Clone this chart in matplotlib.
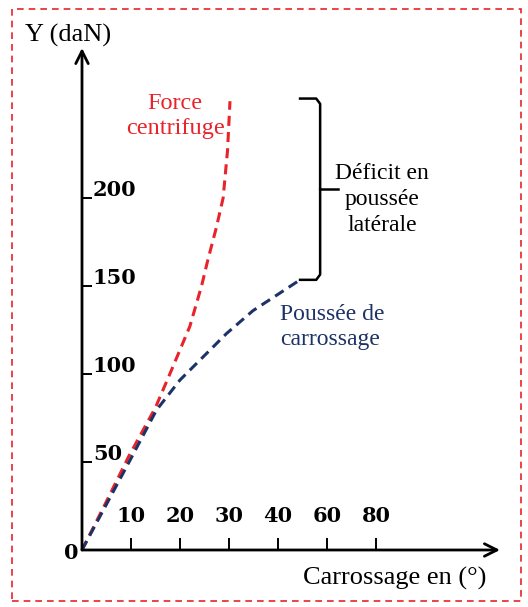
import numpy as np
import matplotlib
matplotlib.use("Agg")
import matplotlib.pyplot as plt
from matplotlib.patches import Rectangle

# x axis is not linear: ticks 10,20,30,40,60,80 are equally spaced,
# so curve x values are in tick-position units (1 = 10°, 3 = 30°, ...)
x_tick_labels = [10, 20, 30, 40, 60, 80]
x_tick_pos = [1, 2, 3, 4, 5, 6]
y_ticks = [50, 100, 150, 200]

# Force centrifuge (red)
red_x = [0, 0.47, 0.95, 1.50, 1.80, 2.20, 2.44, 2.57, 2.74, 2.88, 2.97, 3.02]
red_y = [0, 26, 53, 81, 100.5, 127, 150, 165, 183, 200, 227, 255]

# Poussée de carrossage (blue)
blue_x = [0, 0.49, 0.98, 1.52, 2.00, 2.41, 2.95, 3.49, 4.04, 4.45]
blue_y = [0, 25.5, 51, 79.5, 96.6, 108, 123, 136, 146, 153.5]

serif = "Liberation Serif"
red = "#e8232a"
navy = "#1d3266"

fig = plt.figure(figsize=(5.28, 6.07), dpi=100)
ax = fig.add_axes([82 / 528, 57 / 607, 418 / 528, 502 / 607])
ax.set_xlim(0, 418 / 49)
ax.set_ylim(0, 502 / 1.76)
for s in ax.spines.values():
    s.set_visible(False)

# axes with arrows
ax.annotate("", xy=(418 / 49, 0), xytext=(0, 0),
            arrowprops=dict(arrowstyle="->,head_length=0.9,head_width=0.45",
                            lw=2, color="black", shrinkA=0, shrinkB=0))
ax.annotate("", xy=(0, 502 / 1.76), xytext=(0, 0),
            arrowprops=dict(arrowstyle="->,head_length=0.9,head_width=0.45",
                            lw=2, color="black", shrinkA=0, shrinkB=0))

# ticks
ax.set_xticks(x_tick_pos)
ax.set_yticks(y_ticks)
ax.tick_params(axis="x", direction="in", length=9, width=1.4,
               labelbottom=False)
ax.tick_params(axis="y", direction="in", length=7, width=1.4,
               labelleft=False)
for p, lab in zip(x_tick_pos, x_tick_labels):
    ax.text(p, 19.5, str(lab), ha="center", va="center",
            fontsize=15, fontweight="bold", family="DejaVu Serif")
for v in y_ticks:
    ax.text(0.22, v + 1, str(v), ha="left", va="baseline",
            fontsize=15, fontweight="bold", family="DejaVu Serif")
ax.text(-0.21, -1.5, "0", ha="center", va="center",
        fontsize=15, fontweight="bold", family="DejaVu Serif")

# curves
ax.plot(red_x, red_y, color=red, lw=2.2, linestyle=(0, (3.3, 2.0)),
        clip_on=False)
ax.plot(blue_x, blue_y, color=navy, lw=2.2, linestyle=(0, (3.3, 2.0)),
        clip_on=False)

# brace between the end of the two curves
bx, tip, hook = 4.86, 5.22, 4.45
top, bot = red_y[-1] + 1.5, blue_y[-1]
mid = (top + bot) / 2
ax.plot([hook, bx - 0.08, bx, bx, bx], [top, top, top - 3, mid + 2, mid],
        color="black", lw=1.8, clip_on=False)
ax.plot([hook, bx - 0.08, bx, bx, bx], [bot, bot, bot + 3, mid - 2, mid],
        color="black", lw=1.8, clip_on=False)
ax.plot([bx, tip], [mid, mid], color="black", lw=1.8, clip_on=False)

# labels
ax.text(-0.276, 292.6, "Y (daN)", ha="center", va="center",
        fontsize=19, family=serif)
ax.text(6.39, -16, "Carrossage en (°)", ha="center", va="center",
        fontsize=19, family=serif)
ax.text(1.9, 246.5, "Force\ncentrifuge", ha="center", va="center",
        fontsize=17.5, family=serif, color=red, linespacing=1.22)
ax.text(6.12, 199, "Déficit en\npoussée\nlatérale", ha="center",
        va="center", fontsize=17, family=serif, linespacing=1.3)
ax.text(4.04, 126.7, "Poussée de\ncarrossage", ha="left", va="center",
        fontsize=17, family=serif, color=navy, linespacing=1.3)

# dashed frame around the figure
fig.patches.append(Rectangle((12 / 528, 6 / 607), 509 / 528, 592 / 607,
                             transform=fig.transFigure, fill=False,
                             edgecolor=red, lw=1.2, linestyle=(0, (4, 3))))

fig.savefig("out.png", dpi=100)
